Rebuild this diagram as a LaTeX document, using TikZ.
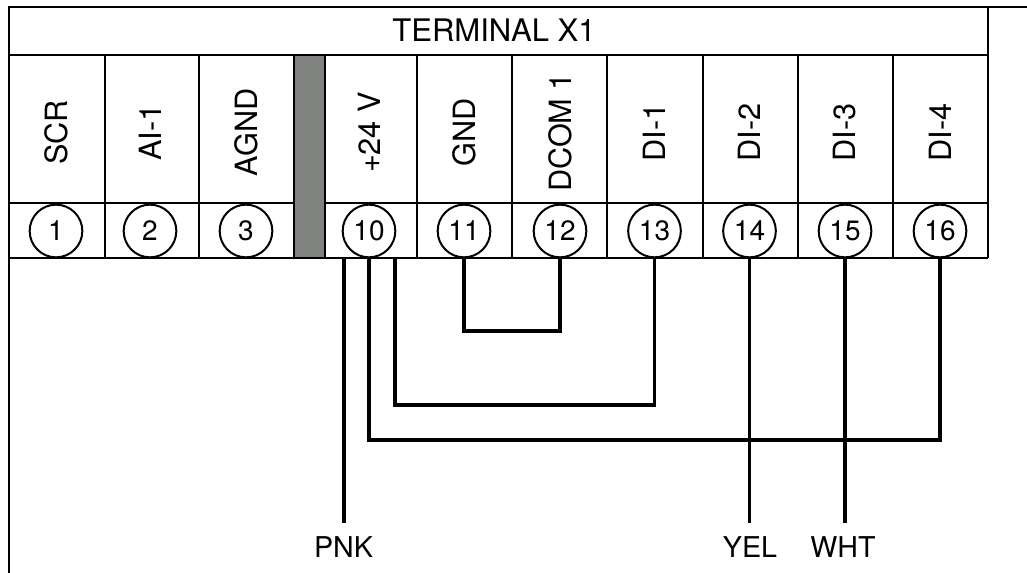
\documentclass[tikz,border=0pt]{standalone}
\usepackage{fontspec}
\setmainfont{TeX Gyre Heros}
\definecolor{bargray}{HTML}{808280}
\tikzset{
  frameline/.style={line width=1.5pt},
  wireline/.style={line width=2.4pt},
  termcircle/.style={draw, circle, line width=1.5pt, minimum size=39.5pt, inner sep=0pt, font=\fontsize{21}{25}\selectfont},
  termlabel/.style={rotate=90, inner sep=0pt, font=\fontsize{23}{27}\selectfont},
  wirelabel/.style={inner sep=0pt, font=\fontsize{21.5}{25}\selectfont}
}
\begin{document}
\begin{tikzpicture}[x=0.75pt,y=-0.75pt]

    \useasboundingbox (0,0) rectangle (1027,573);

    % Separator bar
    \fill[bargray] (294,55) rectangle (325,258);

    % Frame
    \draw[frameline] (1027,7) -- (8.5,7) -- (8.5,573);
    \draw[frameline] (988,7) -- (988,258);
    \draw[frameline] (8.5,55) -- (988,55);
    \draw[frameline] (8.5,203.5) -- (294,203.5);
    \draw[frameline] (325,203.5) -- (988,203.5);
    \draw[frameline] (8.5,258) -- (988,258);
    \foreach \x in {105,199,294,325,417,512,607,703,797.5,893}
      \draw[frameline] (\x,55) -- (\x,258);

    % Title
    \node[inner sep=0pt, font=\fontsize{23.3}{27}\selectfont] (title) at (494,30) {TERMINAL X1};

    % Terminals
    \foreach \name/\x/\txt/\num in {t1/56/SCR/1, t2/150/AI-1/2, t3/246/AGND/3, t10/369/+24 V/10, t11/464/GND/11, t12/560/DCOM 1/12, t13/654.5/DI-1/13, t14/749.5/DI-2/14, t15/845/DI-3/15, t16/940/DI-4/16} {
      \node[termlabel] (\name label) at (\x,132.5) {\txt};
      \node[termcircle] (\name) at (\x,231) {\num};
    }

    % Wire labels
    \node[wirelabel] (pnk) at (343.5,547) {PNK};
    \node[wirelabel] (yel) at (750,547) {YEL};
    \node[wirelabel] (wht) at (843,547) {WHT};

    % Wires
    \coordinate (pnktop) at (344,258);
    \coordinate (pnkend) at (344,523);
    \coordinate (jumptop) at (395,258);
    \coordinate (jumpend) at (395,405);
    \coordinate (yelend) at (749.5,523);
    \coordinate (whtend) at (845,523);
    \draw[wireline] (pnktop) -- (pnkend);
    \draw[wireline] (t10.south) -- (369,440) -| (t16.south);
    \draw[wireline] (jumptop) -- (jumpend) -| (t13.south);
    \draw[wireline] (t11.south) -- (464,331) -| (t12.south);
    \draw[wireline] (t14.south) -- (yelend);
    \draw[wireline] (t15.south) -- (whtend);

\end{tikzpicture}
\end{document}
